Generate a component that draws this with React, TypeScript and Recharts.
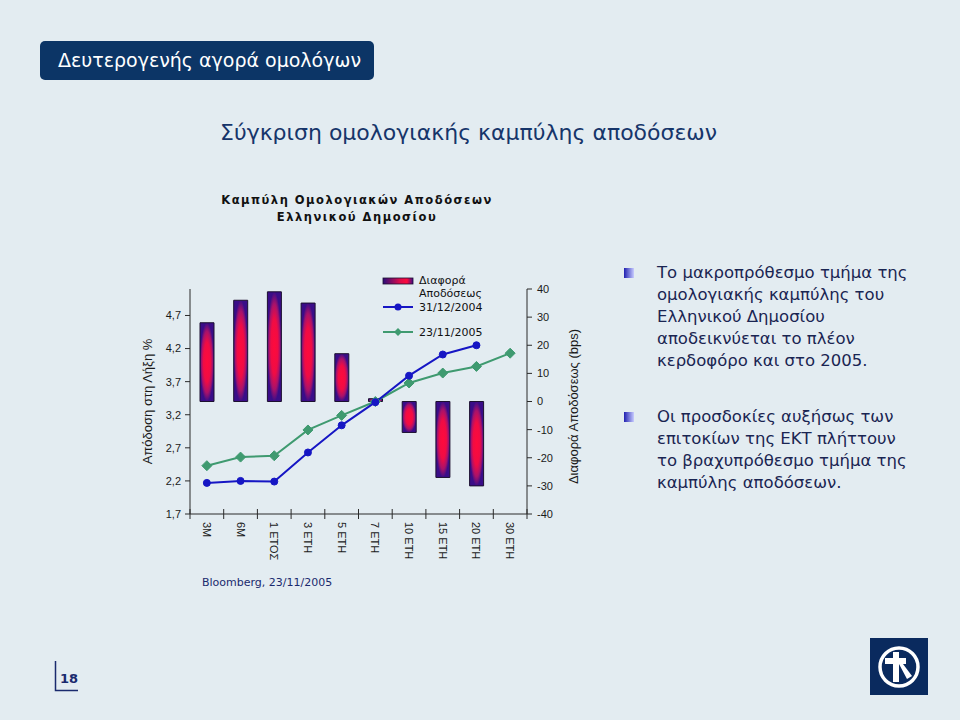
import React from 'react';
import { ComposedChart, Bar, Line, XAxis, YAxis, Label } from 'recharts';

// ---- data ----
const categories = ['3M', '6M', '1 ΕΤΟΣ', '3 ΕΤΗ', '5 ΕΤΗ', '7 ΕΤΗ', '10 ΕΤΗ', '15 ΕΤΗ', '20 ΕΤΗ', '30 ΕΤΗ'];
const yield20041231 = [2.17, 2.2, 2.19, 2.63, 3.04, 3.39, 3.79, 4.11, 4.25, null];
const yield20051123 = [2.43, 2.56, 2.58, 2.97, 3.19, 3.4, 3.68, 3.83, 3.93, 4.13];
const spreadBps = [28, 36, 39, 35, 17, 1, -11, -27, -30, null];
const leftTicks = [1.7, 2.2, 2.7, 3.2, 3.7, 4.2, 4.7];
const rightTicks = [-40, -30, -20, -10, 0, 10, 20, 30, 40];
const leftDomain = [1.7, 5.1];
const rightDomain = [-40, 40];

const seriesNames = ['Διαφορά', 'Αποδόσεως', '31/12/2004', '23/11/2005'];

const chartData = categories.map((c, i) => ({
  cat: c,
  y2004: yield20041231[i],
  y2005: yield20051123[i],
  diff: spreadBps[i],
}));

const BLUE = '#1616c4';
const GREEN = '#3f9a70';
const NAVY = '#0c3566';
const AXIS = '#2a2a2a';
const TICKFONT = '"Liberation Sans", Arial, sans-serif';
const VFONT = '"DejaVu Sans", Verdana, sans-serif';

const XTick = (props: any) => {
  const { x, y, payload, index } = props;
  const off = payload && typeof payload.offset === 'number' ? payload.offset : 0;
  const last = index === categories.length - 1;
  const ty = y + 8;
  return (
    <g>
      <line x1={x - off} x2={x - off} y1={y - 5} y2={y + 5} stroke={AXIS} strokeWidth={1} />
      {last && <line x1={x + off} x2={x + off} y1={y - 5} y2={y + 5} stroke={AXIS} strokeWidth={1} />}
      <text
        x={x}
        y={ty}
        transform={`rotate(90 ${x} ${ty})`}
        textAnchor="start"
        dominantBaseline="central"
        fontSize={11}
        fontFamily={TICKFONT}
        fill="#1a1a1a"
      >
        {payload.value}
      </text>
    </g>
  );
};

const Diamond = (props: any) => {
  const { cx, cy, index } = props;
  if (cx == null || cy == null) return <g key={`d${index}`} />;
  const s = 5;
  return (
    <path
      key={`d${index}`}
      d={`M${cx},${cy - s}L${cx + s},${cy}L${cx},${cy + s}L${cx - s},${cy}Z`}
      fill={GREEN}
      stroke={GREEN}
    />
  );
};

const fmt = (v: number) => v.toFixed(1).replace('.', ',');

export default function App() {
  return (
    <div
      style={{
        position: 'absolute',
        left: 0,
        top: 0,
        width: 960,
        height: 720,
        overflow: 'hidden',
        background: '#e3ecf1',
        fontFamily: VFONT,
      }}
    >
      {/* header banner */}
      <div
        style={{
          position: 'absolute',
          left: 40,
          top: 41,
          width: 334,
          height: 39,
          background: NAVY,
          borderRadius: 5,
        }}
      />
      <div
        style={{
          position: 'absolute',
          left: 58,
          top: 45,
          height: 30,
          lineHeight: '30px',
          color: '#ffffff',
          fontSize: 19,
          fontFamily: VFONT,
          whiteSpace: 'nowrap',
        }}
      >
        Δευτερογενής αγορά ομολόγων
      </div>

      {/* subtitle */}
      <div
        style={{
          position: 'absolute',
          left: 220,
          top: 118,
          lineHeight: '30px',
          color: '#16356a',
          fontSize: 22,
          fontFamily: VFONT,
          whiteSpace: 'nowrap',
        }}
      >
        Σύγκριση ομολογιακής καμπύλης αποδόσεων
      </div>

      {/* chart title */}
      <div
        style={{
          position: 'absolute',
          left: 197,
          top: 192,
          width: 320,
          textAlign: 'center',
          color: '#111',
          fontSize: 11.5,
          fontWeight: 'bold',
          letterSpacing: 1.5,
          lineHeight: '17px',
          fontFamily: VFONT,
        }}
      >
        Καμπύλη Ομολογιακών Αποδόσεων
        <br />
        Ελληνικού Δημοσίου
      </div>

      {/* chart */}
      <div style={{ position: 'absolute', left: 0, top: 0 }}>
        <ComposedChart
          width={960}
          height={720}
          data={chartData}
          margin={{ top: 289, right: 393, bottom: 146, left: 150 }}
        >
          <defs>
            <radialGradient id="barGrad" cx="50%" cy="50%" r="50%">
              <stop offset="0%" stopColor="#ff0a3c" />
              <stop offset="50%" stopColor="#f00c44" />
              <stop offset="78%" stopColor="#a8126a" />
              <stop offset="100%" stopColor="#3a0d88" />
            </radialGradient>
          </defs>
          <XAxis
            dataKey="cat"
            height={60}
            interval={0}
            tickLine={false}
            tickSize={0}
            tickMargin={0}
            axisLine={{ stroke: AXIS, strokeWidth: 1 }}
            tick={<XTick />}
          />
          <YAxis
            yAxisId="left"
            orientation="left"
            width={40}
            domain={leftDomain}
            ticks={leftTicks}
            allowDataOverflow
            tickFormatter={fmt}
            tickSize={5}
            tickMargin={4}
            axisLine={{ stroke: AXIS, strokeWidth: 1 }}
            tickLine={{ stroke: AXIS }}
            tick={{ fontSize: 11, fill: '#1a1a1a', fontFamily: TICKFONT }}
          >
            <Label
              content={(p: any) => {
                const vb = p.viewBox || {};
                const x = vb.x - 3;
                const y = vb.y + vb.height / 2;
                return (
                  <text
                    x={x}
                    y={y}
                    transform={`rotate(-90 ${x} ${y})`}
                    textAnchor="middle"
                    dominantBaseline="central"
                    fontSize={13}
                    fontFamily={TICKFONT}
                    fill="#1a1a1a"
                  >
                    Απόδοση στη Λήξη %
                  </text>
                );
              }}
            />
          </YAxis>
          <YAxis
            yAxisId="right"
            orientation="right"
            width={40}
            domain={rightDomain}
            ticks={rightTicks}
            allowDataOverflow
            tickSize={5}
            tickMargin={5}
            axisLine={{ stroke: AXIS, strokeWidth: 1 }}
            tickLine={{ stroke: AXIS }}
            tick={{ fontSize: 11, fill: '#1a1a1a', fontFamily: TICKFONT }}
          >
            <Label
              content={(p: any) => {
                const vb = p.viewBox || {};
                const x = vb.x + vb.width + 6;
                const y = vb.y + vb.height / 2 + 5;
                return (
                  <text
                    x={x}
                    y={y}
                    transform={`rotate(-90 ${x} ${y})`}
                    textAnchor="middle"
                    dominantBaseline="central"
                    fontSize={13}
                    fontFamily={TICKFONT}
                    fill="#1a1a1a"
                  >
                    Διαφορά Αποδόσεως (bps)
                  </text>
                );
              }}
            />
          </YAxis>
          <Bar
            yAxisId="right"
            dataKey="diff"
            barSize={14}
            fill="url(#barGrad)"
            stroke="#1c1030"
            strokeWidth={1}
            isAnimationActive={false}
          />
          <Line
            yAxisId="left"
            dataKey="y2005"
            stroke={GREEN}
            strokeWidth={2}
            dot={Diamond}
            activeDot={false}
            isAnimationActive={false}
          />
          <Line
            yAxisId="left"
            dataKey="y2004"
            stroke={BLUE}
            strokeWidth={2}
            dot={{ r: 3.5, fill: BLUE, stroke: BLUE, strokeWidth: 1 }}
            activeDot={false}
            isAnimationActive={false}
          />
        </ComposedChart>
      </div>

      {/* legend */}
      <svg
        width={140}
        height={70}
        style={{ position: 'absolute', left: 378, top: 272 }}
      >
        <defs>
          <linearGradient id="legGrad" x1="0" y1="0" x2="1" y2="0">
            <stop offset="0%" stopColor="#2a0c7a" />
            <stop offset="55%" stopColor="#d80c4c" />
            <stop offset="80%" stopColor="#ff0a3c" />
            <stop offset="100%" stopColor="#3a0d88" />
          </linearGradient>
        </defs>
        <rect x={5} y={6} width={30} height={6} fill="url(#legGrad)" stroke="#1c1030" strokeWidth={0.8} />
        <line x1={5} x2={35} y1={35} y2={35} stroke={BLUE} strokeWidth={2} />
        <circle cx={20} cy={35} r={3.5} fill={BLUE} />
        <line x1={5} x2={35} y1={60} y2={60} stroke={GREEN} strokeWidth={2} />
        <path d="M20,56L24,60L20,64L16,60Z" fill={GREEN} />
        <g fontFamily={VFONT} fontSize={11} fill="#111">
          <text x={41} y={8} dominantBaseline="central">{seriesNames[0]}</text>
          <text x={41} y={21} dominantBaseline="central">{seriesNames[1]}</text>
          <text x={41} y={35} dominantBaseline="central">{seriesNames[2]}</text>
          <text x={41} y={60} dominantBaseline="central">{seriesNames[3]}</text>
        </g>
      </svg>

      {/* source */}
      <div
        style={{
          position: 'absolute',
          left: 202,
          top: 576,
          fontSize: 11,
          color: '#1a2a6e',
          fontFamily: VFONT,
          whiteSpace: 'nowrap',
        }}
      >
        Bloomberg, 23/11/2005
      </div>

      {/* bullets */}
      <svg width={20} height={240} style={{ position: 'absolute', left: 620, top: 260 }}>
        <defs>
          <linearGradient id="bulGrad" x1="0" y1="0" x2="1" y2="0">
            <stop offset="0%" stopColor="#2020b0" />
            <stop offset="100%" stopColor="#c8ccff" />
          </linearGradient>
        </defs>
        <rect x={4} y={8} width={10} height={10} fill="url(#bulGrad)" />
        <rect x={4} y={152} width={10} height={10} fill="url(#bulGrad)" />
      </svg>
      <div
        style={{
          position: 'absolute',
          left: 657,
          top: 262,
          width: 300,
          fontSize: 16.5,
          lineHeight: '22px',
          color: '#1a2552',
          fontFamily: VFONT,
        }}
      >
        Το μακροπρόθεσμο τμήμα της
        <br />
        ομολογιακής καμπύλης του
        <br />
        Ελληνικού Δημοσίου
        <br />
        αποδεικνύεται το πλέον
        <br />
        κερδοφόρο και στο 2005.
      </div>
      <div
        style={{
          position: 'absolute',
          left: 657,
          top: 406,
          width: 300,
          fontSize: 16.5,
          lineHeight: '22px',
          color: '#1a2552',
          fontFamily: VFONT,
        }}
      >
        Οι προσδοκίες αυξήσως των
        <br />
        επιτοκίων της ΕΚΤ πλήττουν
        <br />
        το βραχυπρόθεσμο τμήμα της
        <br />
        καμπύλης αποδόσεων.
      </div>

      {/* page number */}
      <svg width={40} height={45} style={{ position: 'absolute', left: 50, top: 655 }}>
        <path d="M5.5,6 L5.5,35.5 L28,35.5" stroke="#1a2a6e" strokeWidth={1.5} fill="none" />
        <text
          x={10}
          y={28}
          fontSize={13}
          fontWeight="bold"
          fontFamily={VFONT}
          fill="#1a2a6e"
        >
          18
        </text>
      </svg>

      {/* logo */}
      <svg width={58} height={57} style={{ position: 'absolute', left: 870, top: 638 }}>
        <rect x={0} y={0} width={58} height={57} fill="#0a2a5e" />
        <circle cx={29} cy={29} r={19} fill="none" stroke="#ffffff" strokeWidth={3.5} />
        <rect x={23} y={14} width={6} height={30} fill="#ffffff" />
        <rect x={15} y={20} width={21} height={6} fill="#ffffff" />
        <path d="M29,26 L33,26 L42,38 L37,41 Z" fill="#ffffff" />
      </svg>
    </div>
  );
}
